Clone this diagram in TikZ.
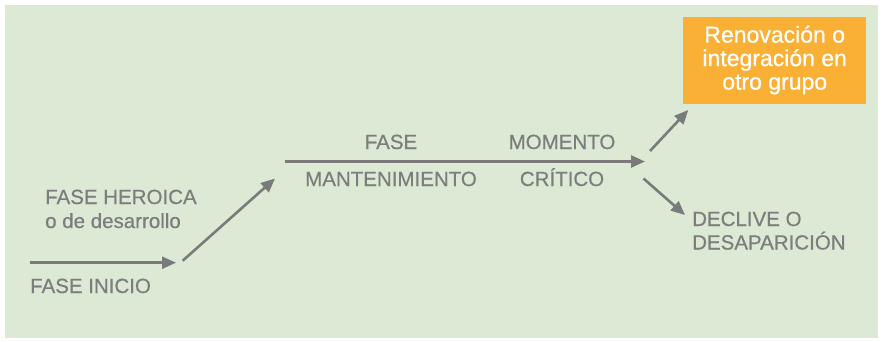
\documentclass[tikz,border=0pt]{standalone}
\usepackage{fontspec}
\setmainfont{Liberation Sans}
\newfontfamily\medio[FakeBold=0.6]{Liberation Sans}
\usetikzlibrary{arrows.meta,positioning}
\definecolor{fondo}{HTML}{DCEAD5}
\definecolor{gristexto}{HTML}{7D7D7D}
\definecolor{grisflecha}{HTML}{7A7A7A}
\definecolor{naranja}{HTML}{FAB035}
\tikzset{
  flecha/.style={draw=grisflecha, line width=2.6pt, -{Triangle[length=14pt,width=12pt]}},
  etiqueta/.style={text=gristexto, font=\medio\fontsize{20.5}{24}\selectfont, inner sep=0pt},
  cajanaranja/.style={fill=naranja, text=white, align=center, minimum width=183pt, minimum height=87pt,
    font=\medio\fontsize{23}{23.5}\selectfont, inner sep=0pt},
}
\begin{document}
\begin{tikzpicture}[x=1pt,y=-1pt]
    \useasboundingbox (0,0) rectangle (882,341);
    \fill [white] (0,0) rectangle (882,341);
    \fill [fondo] (5,5) rectangle (878,338);
    % flechas
    \coordinate (inicioA) at (30,262.7);
    \coordinate (inicioB) at (176,262.7);
    \coordinate (heroicaA) at (182.7,260.7);
    \coordinate (heroicaB) at (275,178.5);
    \coordinate (mantA) at (285,161.5);
    \coordinate (mantB) at (645,161.5);
    \coordinate (renovA) at (650,151);
    \coordinate (renovB) at (688.3,110);
    \coordinate (declA) at (643.5,178.5);
    \coordinate (declB) at (685,215);
    \draw [flecha] (inicioA) -- (inicioB);
    \draw [flecha] (heroicaA) -- (heroicaB);
    \draw [flecha] (mantA) -- (mantB);
    \draw [flecha] (renovA) -- (renovB);
    \draw [flecha] (declA) -- (declB);
    % etiquetas
    \node[etiqueta, anchor=base west] at (30,293) (inicio){FASE INICIO};
    \node[etiqueta, anchor=base west] at (45,204) (heroica){FASE HEROICA};
    \node[etiqueta, anchor=base west] at (45,228) (desarrollo){o de desarrollo};
    \node[etiqueta, anchor=base] at (391,149) (fase){FASE};
    \node[etiqueta, anchor=base] at (391,186) (mantenimiento){MANTENIMIENTO};
    \node[etiqueta, anchor=base] at (562,149) (momento){MOMENTO};
    \node[etiqueta, anchor=base] at (562,186) (critico){CRÍTICO};
    \node[etiqueta, anchor=base west] at (692,226) (declive){DECLIVE O};
    \node[etiqueta, anchor=base west] at (692,249.5) (desaparicion){DESAPARICIÓN};
    \node[cajanaranja] at (774.7,60) (renovacion){Renovación o\\integración en\\otro grupo};
\end{tikzpicture}
\end{document}
